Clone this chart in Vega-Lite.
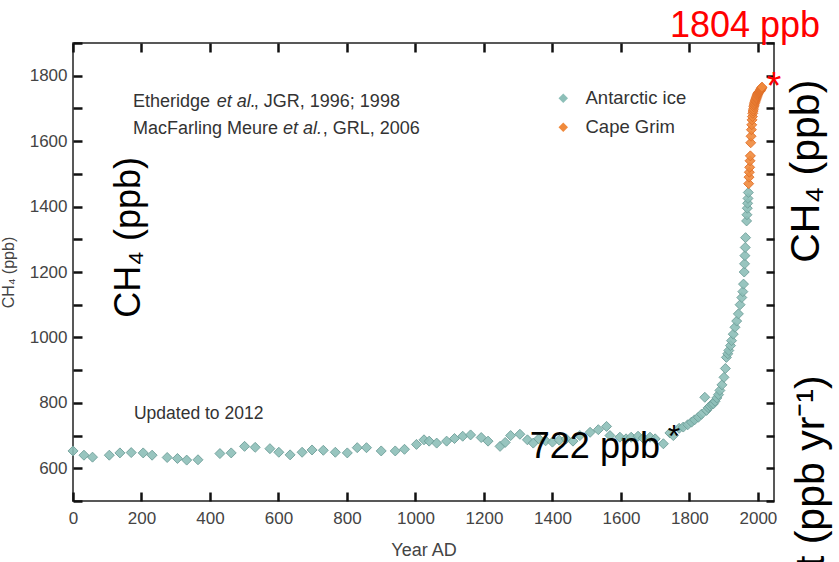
{
  "$schema": "https://vega.github.io/schema/vega-lite/v6.json",
  "width": 701,
  "height": 458,
  "autosize": {"type": "none"},
  "padding": {"left": 73, "top": 43, "right": 65, "bottom": 61},
  "background": "white",
  "config": {
    "view": {"stroke": "#222", "strokeWidth": 1.5},
    "font": "Liberation Sans"
  },
  "datasets": {
    "ch4": [
      {"year": 0, "value": 653, "series": "Antarctic ice"},
      {"year": 32, "value": 640, "series": "Antarctic ice"},
      {"year": 57, "value": 634, "series": "Antarctic ice"},
      {"year": 106, "value": 640, "series": "Antarctic ice"},
      {"year": 137, "value": 647, "series": "Antarctic ice"},
      {"year": 170, "value": 648, "series": "Antarctic ice"},
      {"year": 205, "value": 647, "series": "Antarctic ice"},
      {"year": 231, "value": 640, "series": "Antarctic ice"},
      {"year": 275, "value": 633, "series": "Antarctic ice"},
      {"year": 305, "value": 630, "series": "Antarctic ice"},
      {"year": 332, "value": 625, "series": "Antarctic ice"},
      {"year": 365, "value": 626, "series": "Antarctic ice"},
      {"year": 429, "value": 645, "series": "Antarctic ice"},
      {"year": 462, "value": 647, "series": "Antarctic ice"},
      {"year": 501, "value": 667, "series": "Antarctic ice"},
      {"year": 532, "value": 664, "series": "Antarctic ice"},
      {"year": 575, "value": 660, "series": "Antarctic ice"},
      {"year": 601, "value": 649, "series": "Antarctic ice"},
      {"year": 634, "value": 641, "series": "Antarctic ice"},
      {"year": 669, "value": 649, "series": "Antarctic ice"},
      {"year": 698, "value": 656, "series": "Antarctic ice"},
      {"year": 731, "value": 655, "series": "Antarctic ice"},
      {"year": 766, "value": 649, "series": "Antarctic ice"},
      {"year": 801, "value": 647, "series": "Antarctic ice"},
      {"year": 830, "value": 663, "series": "Antarctic ice"},
      {"year": 857, "value": 663, "series": "Antarctic ice"},
      {"year": 900, "value": 653, "series": "Antarctic ice"},
      {"year": 941, "value": 653, "series": "Antarctic ice"},
      {"year": 968, "value": 658, "series": "Antarctic ice"},
      {"year": 1003, "value": 673, "series": "Antarctic ice"},
      {"year": 1025, "value": 687, "series": "Antarctic ice"},
      {"year": 1040, "value": 683, "series": "Antarctic ice"},
      {"year": 1062, "value": 677, "series": "Antarctic ice"},
      {"year": 1091, "value": 683, "series": "Antarctic ice"},
      {"year": 1114, "value": 691, "series": "Antarctic ice"},
      {"year": 1138, "value": 698, "series": "Antarctic ice"},
      {"year": 1161, "value": 702, "series": "Antarctic ice"},
      {"year": 1192, "value": 694, "series": "Antarctic ice"},
      {"year": 1212, "value": 683, "series": "Antarctic ice"},
      {"year": 1247, "value": 667, "series": "Antarctic ice"},
      {"year": 1262, "value": 679, "series": "Antarctic ice"},
      {"year": 1278, "value": 700, "series": "Antarctic ice"},
      {"year": 1305, "value": 704, "series": "Antarctic ice"},
      {"year": 1327, "value": 687, "series": "Antarctic ice"},
      {"year": 1344, "value": 677, "series": "Antarctic ice"},
      {"year": 1360, "value": 690, "series": "Antarctic ice"},
      {"year": 1380, "value": 684, "series": "Antarctic ice"},
      {"year": 1400, "value": 680, "series": "Antarctic ice"},
      {"year": 1420, "value": 686, "series": "Antarctic ice"},
      {"year": 1440, "value": 690, "series": "Antarctic ice"},
      {"year": 1460, "value": 683, "series": "Antarctic ice"},
      {"year": 1480, "value": 700, "series": "Antarctic ice"},
      {"year": 1510, "value": 710, "series": "Antarctic ice"},
      {"year": 1534, "value": 718, "series": "Antarctic ice"},
      {"year": 1558, "value": 728, "series": "Antarctic ice"},
      {"year": 1568, "value": 700, "series": "Antarctic ice"},
      {"year": 1597, "value": 695, "series": "Antarctic ice"},
      {"year": 1615, "value": 690, "series": "Antarctic ice"},
      {"year": 1630, "value": 695, "series": "Antarctic ice"},
      {"year": 1650, "value": 698, "series": "Antarctic ice"},
      {"year": 1665, "value": 692, "series": "Antarctic ice"},
      {"year": 1685, "value": 695, "series": "Antarctic ice"},
      {"year": 1700, "value": 690, "series": "Antarctic ice"},
      {"year": 1724, "value": 675, "series": "Antarctic ice"},
      {"year": 1743, "value": 708, "series": "Antarctic ice"},
      {"year": 1753, "value": 700, "series": "Antarctic ice"},
      {"year": 1770, "value": 722, "series": "Antarctic ice"},
      {"year": 1782, "value": 726, "series": "Antarctic ice"},
      {"year": 1795, "value": 733, "series": "Antarctic ice"},
      {"year": 1806, "value": 741, "series": "Antarctic ice"},
      {"year": 1815, "value": 748, "series": "Antarctic ice"},
      {"year": 1826, "value": 756, "series": "Antarctic ice"},
      {"year": 1835, "value": 765, "series": "Antarctic ice"},
      {"year": 1845, "value": 817, "series": "Antarctic ice"},
      {"year": 1850, "value": 777, "series": "Antarctic ice"},
      {"year": 1855, "value": 785, "series": "Antarctic ice"},
      {"year": 1860, "value": 790, "series": "Antarctic ice"},
      {"year": 1865, "value": 795, "series": "Antarctic ice"},
      {"year": 1870, "value": 797, "series": "Antarctic ice"},
      {"year": 1875, "value": 805, "series": "Antarctic ice"},
      {"year": 1880, "value": 815, "series": "Antarctic ice"},
      {"year": 1885, "value": 825, "series": "Antarctic ice"},
      {"year": 1889, "value": 838, "series": "Antarctic ice"},
      {"year": 1895, "value": 855, "series": "Antarctic ice"},
      {"year": 1901, "value": 878, "series": "Antarctic ice"},
      {"year": 1905, "value": 905, "series": "Antarctic ice"},
      {"year": 1908, "value": 939, "series": "Antarctic ice"},
      {"year": 1912, "value": 950, "series": "Antarctic ice"},
      {"year": 1915, "value": 960, "series": "Antarctic ice"},
      {"year": 1920, "value": 975, "series": "Antarctic ice"},
      {"year": 1923, "value": 990, "series": "Antarctic ice"},
      {"year": 1928, "value": 1010, "series": "Antarctic ice"},
      {"year": 1933, "value": 1031, "series": "Antarctic ice"},
      {"year": 1938, "value": 1050, "series": "Antarctic ice"},
      {"year": 1943, "value": 1072, "series": "Antarctic ice"},
      {"year": 1948, "value": 1100, "series": "Antarctic ice"},
      {"year": 1953, "value": 1122, "series": "Antarctic ice"},
      {"year": 1956, "value": 1140, "series": "Antarctic ice"},
      {"year": 1958, "value": 1163, "series": "Antarctic ice"},
      {"year": 1960, "value": 1200, "series": "Antarctic ice"},
      {"year": 1961, "value": 1225, "series": "Antarctic ice"},
      {"year": 1962, "value": 1250, "series": "Antarctic ice"},
      {"year": 1963, "value": 1275, "series": "Antarctic ice"},
      {"year": 1964, "value": 1305, "series": "Antarctic ice"},
      {"year": 1967, "value": 1356, "series": "Antarctic ice"},
      {"year": 1968, "value": 1375, "series": "Antarctic ice"},
      {"year": 1969, "value": 1395, "series": "Antarctic ice"},
      {"year": 1970, "value": 1410, "series": "Antarctic ice"},
      {"year": 1971, "value": 1425, "series": "Antarctic ice"},
      {"year": 1972, "value": 1443, "series": "Antarctic ice"},
      {"year": 1973, "value": 1470, "series": "Cape Grim"},
      {"year": 1974, "value": 1490, "series": "Cape Grim"},
      {"year": 1975, "value": 1505, "series": "Cape Grim"},
      {"year": 1976, "value": 1520, "series": "Cape Grim"},
      {"year": 1977, "value": 1540, "series": "Cape Grim"},
      {"year": 1978, "value": 1555, "series": "Cape Grim"},
      {"year": 1979, "value": 1595, "series": "Cape Grim"},
      {"year": 1980, "value": 1615, "series": "Cape Grim"},
      {"year": 1981, "value": 1635, "series": "Cape Grim"},
      {"year": 1982, "value": 1650, "series": "Cape Grim"},
      {"year": 1983, "value": 1665, "series": "Cape Grim"},
      {"year": 1984, "value": 1675, "series": "Cape Grim"},
      {"year": 1985, "value": 1685, "series": "Cape Grim"},
      {"year": 1986, "value": 1692, "series": "Cape Grim"},
      {"year": 1987, "value": 1698, "series": "Cape Grim"},
      {"year": 1988, "value": 1705, "series": "Cape Grim"},
      {"year": 1989, "value": 1710, "series": "Cape Grim"},
      {"year": 1990, "value": 1714, "series": "Cape Grim"},
      {"year": 1991, "value": 1718, "series": "Cape Grim"},
      {"year": 1992, "value": 1722, "series": "Cape Grim"},
      {"year": 1993, "value": 1725, "series": "Cape Grim"},
      {"year": 1994, "value": 1728, "series": "Cape Grim"},
      {"year": 1995, "value": 1731, "series": "Cape Grim"},
      {"year": 1996, "value": 1734, "series": "Cape Grim"},
      {"year": 1997, "value": 1737, "series": "Cape Grim"},
      {"year": 1998, "value": 1740, "series": "Cape Grim"},
      {"year": 1999, "value": 1743, "series": "Cape Grim"},
      {"year": 2000, "value": 1745, "series": "Cape Grim"},
      {"year": 2001, "value": 1747, "series": "Cape Grim"},
      {"year": 2002, "value": 1749, "series": "Cape Grim"},
      {"year": 2003, "value": 1750, "series": "Cape Grim"},
      {"year": 2004, "value": 1751, "series": "Cape Grim"},
      {"year": 2005, "value": 1752, "series": "Cape Grim"},
      {"year": 2006, "value": 1753, "series": "Cape Grim"},
      {"year": 2007, "value": 1755, "series": "Cape Grim"},
      {"year": 2008, "value": 1757, "series": "Cape Grim"},
      {"year": 2009, "value": 1759, "series": "Cape Grim"},
      {"year": 2010, "value": 1761, "series": "Cape Grim"},
      {"year": 2011, "value": 1763, "series": "Cape Grim"},
      {"year": 2012, "value": 1765, "series": "Cape Grim"}
    ]
  },
  "layer": [
    {
      "data": {"name": "ch4"},
      "mark": {"type": "point", "shape": "diamond", "filled": true, "size": 100, "fillOpacity": 0.9, "strokeWidth": 1, "strokeOpacity": 0.9},
      "encoding": {
        "x": {
          "field": "year", "type": "quantitative",
          "scale": {"domain": [0, 2047], "nice": false, "zero": false},
          "axis": {
            "orient": "bottom", "offset": -9, "values": [0, 200, 400, 600, 800, 1000, 1200, 1400, 1600, 1800, 2000],
            "format": "d", "grid": false, "domain": false, "labelFlush": false,
            "ticks": true, "tickSize": 9, "tickColor": "#111", "tickWidth": 2.5,
            "labelPadding": 9, "labelFont": "Liberation Sans", "labelFontSize": 17, "labelColor": "#444",
            "title": "Year AD", "titleFont": "Liberation Sans", "titleFontSize": 18, "titleFontWeight": "normal", "titleColor": "#444",
            "titleY": 58, "titleBaseline": "middle"
          }
        },
        "y": {
          "field": "value", "type": "quantitative",
          "scale": {"domain": [500, 1900], "nice": false, "zero": false},
          "axis": {
            "orient": "left", "offset": -9, "values": [500, 600, 700, 800, 900, 1000, 1100, 1200, 1300, 1400, 1500, 1600, 1700, 1800, 1900],
            "format": "d", "grid": false, "domain": false, "labelFlush": false,
            "labelExpr": "datum.value % 200 == 0 && datum.value >= 600 && datum.value <= 1800 ? datum.label : ''",
            "ticks": true, "tickSize": 9, "tickColor": "#111", "tickWidth": 2.5,
            "labelPadding": 6, "labelFont": "Liberation Sans", "labelFontSize": 17, "labelColor": "#444",
            "title": "CH₄ (ppb)", "titleFont": "Liberation Sans", "titleFontSize": 16, "titleFontWeight": "normal", "titleColor": "#444",
            "titleX": -74, "titleY": 229, "titleAngle": 270, "titleAlign": "center", "titleBaseline": "middle"
          }
        },
        "color": {
          "field": "series", "type": "nominal",
          "scale": {"domain": ["Antarctic ice", "Cape Grim"], "range": ["#8dbfb8", "#f08a3c"]},
          "legend": {
            "title": null, "orient": "none", "legendX": 481, "legendY": 46, "padding": 0,
            "symbolType": "diamond", "symbolSize": 90, "symbolStrokeWidth": 0,
            "labelFont": "Liberation Sans", "labelFontSize": 18.5, "labelColor": "#333",
            "labelOffset": 13, "rowPadding": 10
          }
        },
        "stroke": {
          "field": "series", "type": "nominal",
          "scale": {"domain": ["Antarctic ice", "Cape Grim"], "range": ["#6f9f99", "#e0702a"]},
          "legend": null
        }
      }
    },
    {
      "data": {"name": "ch4"},
      "mark": {"type": "point", "opacity": 0},
      "encoding": {
        "x": {
          "field": "year", "type": "quantitative",
          "axis": {"orient": "top", "offset": -9, "values": [0, 200, 400, 600, 800, 1000, 1200, 1400, 1600, 1800, 2000], "labels": false, "domain": false, "grid": false, "ticks": true, "tickSize": 9, "tickColor": "#111", "tickWidth": 2.5, "title": null}
        },
        "y": {
          "field": "value", "type": "quantitative",
          "axis": {"orient": "right", "offset": -8, "values": [500, 600, 700, 800, 900, 1000, 1100, 1200, 1300, 1400, 1500, 1600, 1700, 1800, 1900], "labels": false, "domain": false, "grid": false, "ticks": true, "tickSize": 8, "tickColor": "#111", "tickWidth": 2.5, "title": null}
        }
      }
    },
    {
      "data": {"values": [
        {"year": 175, "value": 1704, "label": "Etheridge"},
        {"year": 528, "value": 1704, "label": ", JGR, 1996; 1998"},
        {"year": 175, "value": 1621, "label": "MacFarling Meure"},
        {"year": 729, "value": 1621, "label": ", GRL, 2006"}
      ]},
      "mark": {"type": "text", "align": "left", "baseline": "alphabetic", "font": "Liberation Sans", "fontSize": 18, "color": "#333"},
      "encoding": {
        "x": {"field": "year", "type": "quantitative", "axis": null},
        "y": {"field": "value", "type": "quantitative", "axis": null},
        "text": {"field": "label"}
      }
    },
    {
      "data": {"values": [
        {"year": 420, "value": 1704, "label": "et al."},
        {"year": 613, "value": 1621, "label": "et al."}
      ]},
      "mark": {"type": "text", "align": "left", "baseline": "alphabetic", "font": "Liberation Sans", "fontStyle": "italic", "fontSize": 18, "color": "#333"},
      "encoding": {
        "x": {"field": "year", "type": "quantitative", "axis": null},
        "y": {"field": "value", "type": "quantitative", "axis": null},
        "text": {"field": "label"}
      }
    },
    {
      "data": {"values": [
        {"year": 178, "value": 750, "label": "Updated to 2012"}
      ]},
      "mark": {"type": "text", "align": "left", "baseline": "alphabetic", "font": "Liberation Sans", "fontSize": 17.5, "color": "#333"},
      "encoding": {
        "x": {"field": "year", "type": "quantitative", "axis": null},
        "y": {"field": "value", "type": "quantitative", "axis": null},
        "text": {"field": "label"}
      }
    },
    {
      "data": {"values": [
        {"year": 1334, "value": 631, "label": "722 ppb"}
      ]},
      "mark": {"type": "text", "align": "left", "baseline": "alphabetic", "font": "Liberation Sans", "fontSize": 36, "color": "#000"},
      "encoding": {
        "x": {"field": "year", "type": "quantitative", "axis": null},
        "y": {"field": "value", "type": "quantitative", "axis": null},
        "text": {"field": "label"}
      }
    },
    {
      "data": {"values": [
        {"year": 1755, "value": 664, "label": "*"}
      ]},
      "mark": {"type": "text", "align": "center", "baseline": "alphabetic", "font": "Liberation Sans", "fontSize": 32, "color": "#000"},
      "encoding": {
        "x": {"field": "year", "type": "quantitative", "axis": null},
        "y": {"field": "value", "type": "quantitative", "axis": null},
        "text": {"field": "label"}
      }
    },
    {
      "data": {"values": [
        {"year": 1743, "value": 1918, "label": "1804 ppb"}
      ]},
      "mark": {"type": "text", "align": "left", "baseline": "alphabetic", "font": "Liberation Sans", "fontSize": 36, "color": "#ff0000"},
      "encoding": {
        "x": {"field": "year", "type": "quantitative", "axis": null},
        "y": {"field": "value", "type": "quantitative", "axis": null},
        "text": {"field": "label"}
      }
    },
    {
      "data": {"values": [
        {"year": 2047, "value": 1728, "label": "*"}
      ]},
      "mark": {"type": "text", "align": "center", "baseline": "alphabetic", "font": "Liberation Sans", "fontSize": 38, "color": "#ff0000"},
      "encoding": {
        "x": {"field": "year", "type": "quantitative", "axis": null},
        "y": {"field": "value", "type": "quantitative", "axis": null},
        "text": {"field": "label"}
      }
    },
    {
      "data": {"values": [
        {"year": 163, "value": 1306, "label": "CH₄ (ppb)"}
      ]},
      "mark": {"type": "text", "align": "center", "baseline": "middle", "angle": 270, "font": "Liberation Sans", "fontSize": 36, "color": "#000"},
      "encoding": {
        "x": {"field": "year", "type": "quantitative", "axis": null},
        "y": {"field": "value", "type": "quantitative", "axis": null},
        "text": {"field": "label"}
      }
    },
    {
      "data": {"values": [
        {"year": 2143, "value": 1508, "label": "CH₄ (ppb)"}
      ]},
      "mark": {"type": "text", "align": "center", "baseline": "middle", "angle": 270, "font": "Liberation Sans", "fontSize": 41, "color": "#000"},
      "encoding": {
        "x": {"field": "year", "type": "quantitative", "axis": null},
        "y": {"field": "value", "type": "quantitative", "axis": null},
        "text": {"field": "label"}
      }
    },
    {
      "data": {"values": [
        {"year": 2158, "value": 884, "label": "dCH₄/dt (ppb yr⁻¹)"}
      ]},
      "mark": {"type": "text", "align": "right", "baseline": "middle", "angle": 270, "font": "Liberation Sans", "fontSize": 41, "color": "#000"},
      "encoding": {
        "x": {"field": "year", "type": "quantitative", "axis": null},
        "y": {"field": "value", "type": "quantitative", "axis": null},
        "text": {"field": "label"}
      }
    }
  ],
  "resolve": {"axis": {"x": "independent", "y": "independent"}}
}
